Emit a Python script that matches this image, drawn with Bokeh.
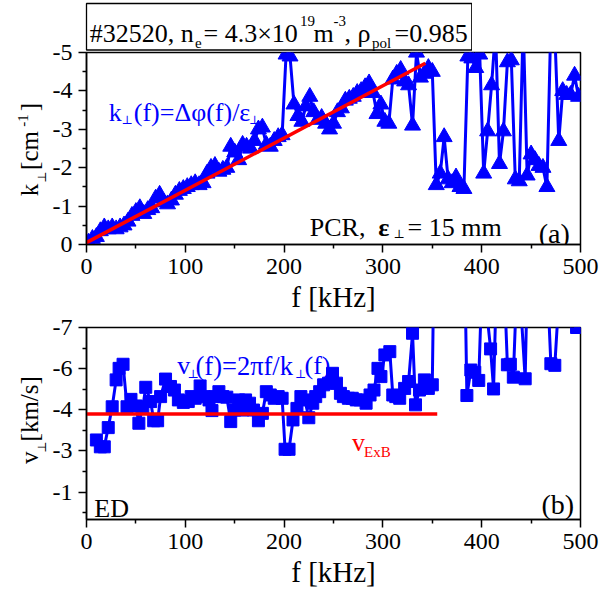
import math
from bokeh.plotting import figure
from bokeh.models import Range1d, FixedTicker, Label, BoxAnnotation
from bokeh.layouts import column, row
from bokeh.embed import file_html
from bokeh.resources import INLINE

# ---------------- data ----------------
f_a = [2, 6, 10, 14, 18, 22, 26, 30, 34, 38,
       42, 46, 50, 54, 58, 62, 66, 70, 74, 78,
       82, 86, 90, 94, 98, 102, 106, 110, 114, 118,
       122, 126, 130, 134, 138, 142, 146, 150, 154, 158,
       162, 166, 170, 174, 178, 182, 186, 190, 194, 198,
       202, 206, 210, 214, 218, 222, 226, 230, 234, 238,
       242, 246, 250, 254, 258, 262, 266, 270, 274, 278,
       282, 286, 290, 294, 298, 302, 306, 310, 314, 318,
       322, 326, 330, 334, 338, 342, 346, 350, 354, 358,
       362, 366, 370, 374, 378, 382, 386, 390, 394, 398,
       402, 406, 410, 414, 418, 422, 426, 430, 434, 438,
       442, 446, 450, 454, 458, 462, 466, 470, 474, 478,
       482, 486, 490, 494, 498]
k_a = [-0.05, -0.15, -0.2, -0.35, -0.45, -0.4, -0.45, -0.4, -0.45, -0.5,
       -0.6, -0.75, -0.85, -0.95, -0.8, -0.9, -0.95, -1.2, -1.3, -1.1,
       -1.05, -1.15, -1.3, -1.4, -1.45, -1.5, -1.55, -1.6, -1.55, -1.6,
       -1.85, -2.0, -2.05, -1.9, -1.95, -2.0, -2.55, -2.4, -2.2, -2.6,
       -2.55, -2.5, -2.7, -3.0, -3.05, -2.6, -2.55, -2.7, -2.8, -2.85,
       -4.95, -4.9, -3.65, -3.35, -3.2, -3.6, -3.85, -3.45, -3.25, -3.3,
       -3.15, -3.0, -3.15, -3.45, -3.55, -3.75, -3.8, -3.85, -3.95, -4.0,
       -4.1, -4.2, -3.95, -3.4, -3.65, -3.2, -3.15, -4.3, -4.45, -4.55,
       -4.25, -4.15, -3.1, -5.0, -4.35, -4.45, -4.6, -4.5, -1.55, -1.85,
       -2.8, -1.7, -1.6, -1.75, -1.5, -1.45, -4.9, -4.85, -4.6, -4.95,
       -1.85, -2.95, -4.15, -5.6, -2.1, -2.95, -4.75, -4.8, -1.7, -1.65,
       -5.8, -1.8, -2.35, -2.2, -2.05, -2.0, -1.5, -5.8, -5.5, -2.7,
       -4.0, -3.9, -3.9, -4.4, -3.85]
fit_f = [0, 343]
fit_k = [-0.05, -4.72]

f_b = [10, 14, 18, 22, 26, 30, 33, 37, 41, 45,
       50, 53, 57, 60, 65, 68, 72, 75, 80, 85,
       89, 93, 98, 103, 106, 110, 115, 119, 124, 127,
       130, 134, 138, 142, 146, 150, 154, 158, 161, 165,
       169, 174, 178, 182, 186, 190, 194, 198, 201, 205,
       209, 213, 217, 221, 225, 229, 232, 236, 240, 245,
       249, 253, 257, 260, 265, 269, 273, 277, 283, 287,
       291, 295, 298, 302, 307, 310, 313, 317, 322, 326,
       330, 333, 337, 342, 346, 350, 354, 366, 378, 385,
       389, 393, 397, 401, 405, 409, 412, 416, 420, 424,
       426, 429, 432, 436, 440, 444, 448, 455, 462, 466,
       470, 474, 478, 486, 492, 496, 500]
v_b = [-2.90, -2.65, -2.65, -3.35, -4.11, -5.09, -5.51, -5.66, -4.11, -4.38,
       -4.14, -3.51, -4.11, -4.82, -4.30, -3.60, -3.60, -4.48, -5.12, -4.85,
       -4.72, -4.36, -4.27, -4.30, -4.48, -4.42, -4.87, -4.48, -4.36, -3.97,
       -4.48, -4.66, -4.48, -4.46, -3.57, -3.99, -4.36, -3.99, -4.36, -4.24,
       -3.99, -3.60, -3.87, -4.66, -4.54, -4.42, -4.48, -4.42, -2.56, -2.56,
       -3.63, -4.05, -4.48, -4.36, -3.71, -4.24, -4.48, -4.66, -4.91, -4.97,
       -5.33, -4.97, -4.60, -4.48, -4.42, -4.42, -4.36, -4.36, -4.24, -4.54,
       -4.72, -5.51, -5.21, -6.00, -6.12, -4.54, -4.48, -4.42, -4.78, -5.03,
       -6.79, -4.18, -4.72, -5.09, -4.78, -4.91, -16.0, -18.0, -20.0, -4.52,
       -5.45, -5.37, -5.07, -9.5, -7.6, -6.22, -4.76, -10.0, -8.0, -7.5,
       -5.64, -5.66, -5.19, -9.0, -7.5, -5.13, -12.0, -11.0, -10.5, -9.0,
       -5.68, -5.62, -8.0, -10.0, -7.4, -7.0, -7.02]
vexb_f = [0, 355]
vexb_v = [-3.85, -3.85]

x_ticks = [0, 100, 200, 300, 400, 500]
x_minor = [50, 150, 250, 350, 450]
ka_ticks = [0, -1, -2, -3, -4, -5]
ka_minor = [-0.5, -1.5, -2.5, -3.5, -4.5]
vb_ticks = [-7, -5.5, -4, -2.5, -1]
vb_labels = ["-7", "-6", "-4", "-3", "-1"]
vb_minor = [-6.25, -4.75, -3.25, -1.75, -0.25]

BLUE = "#0000ff"
RED = "#ff0000"
SERIF = "Liberation Serif"
PERP = "DejaVu Serif"

# geometry in page pixels
LABW = 48                  # width of the strip holding the rotated y titles
FL, FR = 86, 580           # frame left / right
TITLE_H = 51
ROW1_START = 38            # row 1 overlaps the title strip (transparent border)
T_TOP, T_BOT = 52, 244     # top panel frame
ROW1_END = 322
ROW2_START = 310           # row 2 overlaps row 1 (transparent border)
B_TOP, B_BOT = 327, 519    # bottom panel frame
ROW2_END = 598


def fx(px):
    return (px - FL) * 500.0 / (FR - FL)


def fy_top(py):
    return (py - T_BOT) * 5.0 / (T_BOT - T_TOP)


def fy_bot(py):
    return (py - B_BOT) * 7.0 / (B_BOT - B_TOP)


def ident(v):
    return v


def style_fig(p, yticks, yminor, ylabels):
    p.xgrid.visible = False
    p.ygrid.visible = False
    p.border_fill_alpha = 0
    p.outline_line_color = "black"
    p.outline_line_width = 1.5
    p.xaxis.ticker = FixedTicker(ticks=x_ticks, minor_ticks=x_minor)
    p.yaxis.ticker = FixedTicker(ticks=yticks, minor_ticks=yminor)
    p.xaxis.major_label_overrides = {t: str(t) for t in x_ticks}
    p.yaxis.major_label_overrides = dict(zip(yticks, ylabels))
    for ax in (p.xaxis[0], p.yaxis[0]):
        ax.axis_line_color = "black"
        ax.axis_line_width = 1.5
        ax.major_tick_line_color = "black"
        ax.major_tick_line_width = 1.5
        ax.minor_tick_line_color = "black"
        ax.minor_tick_line_width = 1.5
        ax.major_tick_in = 0
        ax.major_tick_out = 8
        ax.minor_tick_in = 0
        ax.minor_tick_out = 4
        ax.major_label_text_font = SERIF
        ax.major_label_text_font_size = "24px"
        ax.major_label_text_color = "black"
        ax.major_label_standoff = 6
    xa = p.xaxis[0]
    xa.axis_label = "f [kHz]"
    xa.axis_label_text_font = SERIF
    xa.axis_label_text_font_size = "29px"
    xa.axis_label_text_font_style = "normal"
    xa.axis_label_text_color = "black"
    xa.axis_label_standoff = 4


def txt(p, fxf, fyf, x, y, s, size, color="black", font=SERIF, style="normal"):
    p.add_layout(Label(x=fxf(x), y=fyf(y), text=s, text_font=font,
                       text_font_size=f"{size}px", text_color=color,
                       text_align="left", text_baseline="alphabetic",
                       text_font_style=style))


def rtxt(p, xc, yc, s, size, font=SERIF):
    # rotated (reads bottom to top), anchored at its centre
    p.add_layout(Label(x=xc, y=yc, text=s, text_font=font,
                       text_font_size=f"{size}px", text_color="black",
                       angle=math.pi / 2, text_align="center",
                       text_baseline="middle"))


def blank_fig(w, h, xr, yr, **kw):
    q = figure(width=w, height=h, x_range=xr, y_range=yr,
               x_axis_type=None, y_axis_type=None,
               output_backend="svg", toolbar_location=None, title=None, **kw)
    q.xgrid.visible = False
    q.ygrid.visible = False
    q.outline_line_color = None
    q.border_fill_alpha = 0
    q.background_fill_alpha = 0
    return q


# ---------------- title strip (data units = page pixels) ----------------
pt = blank_fig(472, TITLE_H, Range1d(0, 472), Range1d(TITLE_H, 0), min_border=0)
pt.add_layout(BoxAnnotation(left=86, right=471.3, top=3, bottom=49.5,
                            fill_alpha=0, line_color="black", line_width=1.3,
                            line_alpha=1.0))
TB = 32.5
txt(pt, ident, ident, 89.3, TB, "#32520, n", 26)
txt(pt, ident, ident, 194.5, TB + 9.5, "e", 15)
txt(pt, ident, ident, 203, TB, "= 4.3×10", 26)
txt(pt, ident, ident, 299.5, TB - 12.5, "19", 15)
txt(pt, ident, ident, 313, TB, "m", 26)
txt(pt, ident, ident, 333, TB - 12.5, "-3", 15)
txt(pt, ident, ident, 344, TB, ", ρ", 26)
txt(pt, ident, ident, 371.5, TB + 9.5, "pol", 15)
txt(pt, ident, ident, 394, TB, "=0.985", 26)

# ---------------- top panel ----------------
H1 = ROW1_END - ROW1_START
p1 = figure(width=600 - LABW, height=H1,
            x_range=Range1d(0, 500), y_range=Range1d(0, -5),
            min_border_left=FL - LABW, min_border_right=600 - FR,
            min_border_top=T_TOP - ROW1_START, min_border_bottom=ROW1_END - T_BOT,
            output_backend="svg", toolbar_location=None, title=None)
style_fig(p1, ka_ticks, ka_minor, [str(t) for t in ka_ticks])
p1.line(f_a, k_a, line_color=BLUE, line_width=3)
p1.scatter(f_a, k_a, marker="triangle", size=16, fill_color=BLUE, line_color=BLUE)
p1.line(fit_f, fit_k, line_color=RED, line_width=3.5)

KB = 111.7
txt(p1, fx, fy_top, 108.3, KB, "k", 26, BLUE)
txt(p1, fx, fy_top, 121, KB + 8, "⊥", 12, BLUE, PERP)
txt(p1, fx, fy_top, 133.3, KB, "(f)=Δφ(f)/ε", 26, BLUE)
txt(p1, fx, fy_top, 248.5, KB + 8, "⊥", 12, BLUE, PERP)

PB = 226.7
txt(p1, fx, fy_top, 309.3, PB, "PCR,", 26)
txt(p1, fx, fy_top, 377.7, PB, "ε", 26, style="bold")
txt(p1, fx, fy_top, 393, PB + 7, "⊥", 12, "black", PERP)
txt(p1, fx, fy_top, 407, PB, "= 15 mm", 26)
txt(p1, fx, fy_top, 538.3, 233, "(a)", 28)

# rotated y title of the top panel; its frame spans the same rows as p1's frame
ly1 = blank_fig(LABW, H1, Range1d(0, LABW), Range1d(T_BOT, T_TOP),
                min_border_left=0, min_border_right=0,
                min_border_top=T_TOP - ROW1_START, min_border_bottom=ROW1_END - T_BOT)
rtxt(ly1, 29, 189.5, "k", 25)
rtxt(ly1, 41.5, 176.5, "⊥", 12, PERP)
rtxt(ly1, 29, 150, "[cm", 25)
rtxt(ly1, 22.5, 120, "-1", 15)
rtxt(ly1, 29, 106.5, "]", 25)

# ---------------- bottom panel ----------------
H2 = ROW2_END - ROW2_START
p2 = figure(width=600 - LABW, height=H2,
            x_range=Range1d(0, 500), y_range=Range1d(0, -7),
            min_border_left=FL - LABW, min_border_right=600 - FR,
            min_border_top=B_TOP - ROW2_START, min_border_bottom=ROW2_END - B_BOT,
            output_backend="svg", toolbar_location=None, title=None)
style_fig(p2, vb_ticks, vb_minor, vb_labels)
p2.line(f_b, v_b, line_color=BLUE, line_width=3)
p2.scatter(f_b, v_b, marker="square", size=12, fill_color=BLUE, line_color=BLUE)
p2.line(vexb_f, vexb_v, line_color=RED, line_width=3.5)

VB = 365
txt(p2, fx, fy_bot, 176.7, VB, "v", 26, BLUE)
txt(p2, fx, fy_bot, 187, VB + 8, "⊥", 12, BLUE, PERP)
txt(p2, fx, fy_bot, 195, VB, "(f)=2πf/k", 26.5, BLUE)
txt(p2, fx, fy_bot, 294.5, VB + 8, "⊥", 12, BLUE, PERP)
txt(p2, fx, fy_bot, 304, VB, "(f)", 26, BLUE)

txt(p2, fx, fy_bot, 351.5, 441.7, "v", 26, RED)
txt(p2, fx, fy_bot, 363.6, 451.7, "ExB", 15, RED)

txt(p2, fx, fy_bot, 93.8, 508, "ED", 26)
txt(p2, fx, fy_bot, 541, 504, "(b)", 28)

ly2 = blank_fig(LABW, H2, Range1d(0, LABW), Range1d(B_BOT, B_TOP),
                min_border_left=0, min_border_right=0,
                min_border_top=B_TOP - ROW2_START, min_border_bottom=ROW2_END - B_BOT)
rtxt(ly2, 29, 457.3, "v", 25)
rtxt(ly2, 41.5, 446.5, "⊥", 12, PERP)
rtxt(ly2, 29, 408.3, "[km/s]", 25)

row1 = row(ly1, p1, margin=(ROW1_START - TITLE_H, 0, 0, 0))
row2 = row(ly2, p2, margin=(ROW2_START - ROW1_END, 0, 0, 0))
layout = column(pt, row1, row2)
open("out.html", "w").write(file_html(layout, INLINE))
